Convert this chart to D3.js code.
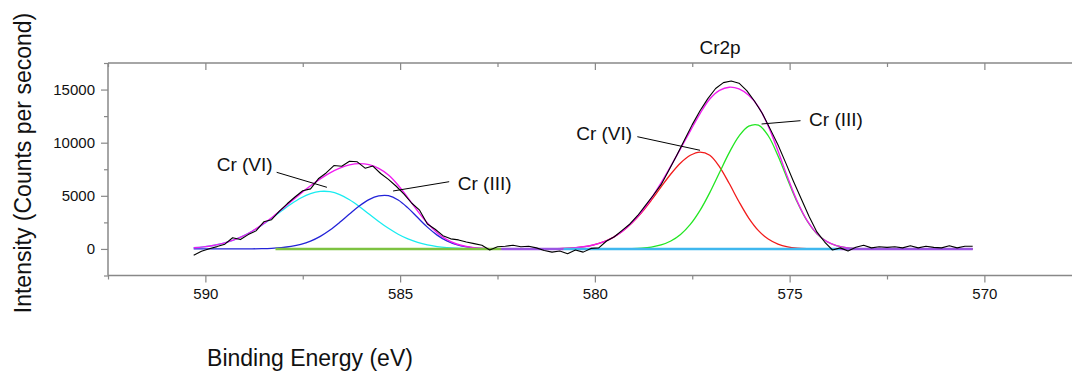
<!DOCTYPE html>
<html>
<head>
<meta charset="utf-8">
<script src="https://cdn.jsdelivr.net/npm/d3@7"></script>
<style>
  body { margin: 0; background: #fff; }
  svg { display: block; font-family: "Liberation Sans", Arial, sans-serif; }
</style>
</head>
<body>
<svg id="chart" width="1072" height="371"></svg>
<script>
// binding energy grid for the fitted curves (eV)
var energy = [590.30, 590.05, 589.80, 589.55, 589.30, 589.05, 588.80, 588.55, 588.30, 588.05,
  587.80, 587.55, 587.30, 587.05, 586.80, 586.55, 586.30, 586.05, 585.80, 585.55,
  585.30, 585.05, 584.80, 584.55, 584.30, 584.05, 583.80, 583.55, 583.30, 583.05,
  582.80, 582.55, 582.30, 582.05, 581.80, 581.55, 581.30, 581.05, 580.80, 580.55,
  580.30, 580.05, 579.80, 579.55, 579.30, 579.05, 578.80, 578.55, 578.30, 578.05,
  577.80, 577.55, 577.30, 577.05, 576.80, 576.55, 576.30, 576.05, 575.80, 575.55,
  575.30, 575.05, 574.80, 574.55, 574.30, 574.05, 573.80, 573.55, 573.30, 573.05,
  572.80, 572.55, 572.30, 572.05, 571.80, 571.55, 571.30, 571.05, 570.80, 570.55, 570.30];

// Cr 2p1/2 components (left doublet)
var cr6_left = [110, 193, 324, 519, 798, 1175, 1655, 2232, 2884, 3568,
  4225, 4792, 5204, 5411, 5384, 5111, 4628, 3998, 3293, 2588,
  1940, 1387, 945, 615, 382, 226, 128, 69, 35, 17,
  8, 3, 1, 0, 0, 0];
var cr3_left = [0, 0, 0, 1, 2, 4, 11, 26, 58, 121,
  236, 433, 742, 1188, 1783, 2501, 3284, 4034, 4638, 4990,
  5013, 4610, 3864, 2951, 2054, 1302, 753, 396, 190, 83,
  33, 12, 4, 1, 0, 0];

// Cr 2p3/2 components (right doublet), start at index 37
var cr6_right = [24, 51, 104, 200, 366, 634, 1045, 1634, 2428, 3425,
  4588, 5836, 7051, 8089, 8813, 9119, 8816, 7734, 6155, 4442,
  2907, 1726, 929, 454, 201, 81, 29, 10, 3, 1,
  0, 0, 0, 0, 0, 0, 0, 0, 0, 0, 0, 0, 0, 0];
var cr3_right = [0, 0, 0, 0, 0, 1, 4, 12, 32, 79,
  180, 380, 745, 1359, 2304, 3625, 5298, 7193, 9069, 10621,
  11554, 11651, 10653, 8779, 6518, 4362, 2630, 1430, 700, 309,
  123, 44, 14, 4, 1, 0, 0, 0, 0, 0, 0, 0, 0, 0];

// envelope of the fit
var envelope = [110, 193, 324, 520, 800, 1179, 1666, 2258, 2942, 3689,
  4461, 5225, 5946, 6599, 7167, 7612, 7912, 8032, 7931, 7578,
  6953, 5997, 4809, 3566, 2436, 1528, 881, 465, 225, 100,
  41, 15, 5, 1, 0, 0, 0, 24, 51, 104,
  200, 366, 635, 1049, 1646, 2460, 3504, 4768, 6216, 7796,
  9448, 11117, 12744, 14114, 14927, 15224, 15063, 14461, 13377, 11582,
  9233, 6719, 4443, 2659, 1440, 703, 310, 123, 44, 14,
  4, 1, 0, 0, 0, 0, 0, 0, 0, 0, 0];

// measured spectrum [eV, counts/s]
var raw = [[590.3, -600], [590.1, -220], [589.9, 20], [589.7, 220], [589.5, 450], [589.3, 1050],
  [589.1, 880], [588.9, 1350], [588.7, 1700], [588.5, 2550], [588.3, 2750], [588.1, 3550],
  [587.9, 4250], [587.7, 4890], [587.5, 5480], [587.3, 5650], [587.1, 6600], [586.9, 7150],
  [586.7, 7850], [586.5, 7780], [586.3, 8250], [586.1, 8200], [585.9, 7600], [585.7, 7800],
  [585.5, 7100], [585.3, 6550], [585.1, 5900], [584.9, 5150], [584.7, 4300], [584.5, 3650],
  [584.3, 2350], [584.1, 1850], [583.9, 1250], [583.7, 950], [583.5, 850], [583.3, 650],
  [583.1, 500], [582.9, 350], [582.7, -100], [582.5, 200], [582.3, 250], [582.1, 350],
  [581.9, 200], [581.7, 250], [581.5, 100], [581.3, -150], [581.1, -300], [580.9, -200],
  [580.7, -450], [580.5, -100], [580.3, -300], [580.1, 50], [579.9, 100], [579.7, 750],
  [579.5, 1150], [579.3, 1750], [579.1, 2350], [578.9, 3150], [578.7, 4100], [578.5, 5050],
  [578.3, 6050], [578.1, 7400], [577.9, 8800], [577.7, 10250], [577.5, 11700], [577.3, 13000],
  [577.1, 14150], [576.9, 15100], [576.7, 15650], [576.5, 15800], [576.3, 15600], [576.1, 14900],
  [575.9, 13900], [575.7, 12750], [575.5, 11300], [575.3, 9800], [575.1, 8100], [574.9, 6350],
  [574.7, 4700], [574.5, 3050], [574.3, 1600], [574.1, 650], [573.9, -100], [573.7, 100],
  [573.5, -200], [573.3, 150], [573.1, 350], [572.9, 100], [572.7, 200], [572.5, 150],
  [572.3, 200], [572.1, 100], [571.9, 300], [571.7, 100], [571.5, 250], [571.3, 150],
  [571.1, 100], [570.9, 300], [570.7, 100], [570.5, 250], [570.3, 250]];

// baseline pieces (eV breakpoints)
var baseBreaks = [588.2, 582.4, 580.8, 573.7, 570.3];

// ticks
var xMajor = [590, 585, 580, 575, 570];
var xMinor = [592.5, 587.5, 582.5, 577.5, 572.5, 567.5];
var yMajor = [0, 5000, 10000, 15000];
var yMinor = [-2500, 2500, 7500, 12500, 17500];

// annotations [text, eV, counts] and leader lines [eV1, c1, eV2, c2]
var labels = [["Cr (VI)", 589.71, 7336], ["Cr (III)", 583.52, 5547],
  ["Cr (VI)", 580.48, 10253], ["Cr (III)", 574.50, 11571]];
var leaders = [[588.17, 7213, 586.88, 5801], [583.74, 6328, 585.18, 5453],
  [578.91, 10564, 577.30, 9284], [574.72, 12070, 575.72, 11759]];

function draw_chart() {
    var W = 1072, H = 371;
    var plotLeft = 108, plotTop = 63, plotBottom = 275.5;
    var axisColor = "#888";

    var svg = d3.select("#chart");
    svg.append("rect").attr("width", W).attr("height", H).attr("fill", "#fff");

    var x = d3.scaleLinear().domain([592.5, 567.5]).range([plotLeft, 1081.75]);
    var y = d3.scaleLinear().domain([-2500, 17500]).range([plotBottom, plotTop]);

    // frame
    var frame = svg.append("g").attr("stroke", axisColor).attr("stroke-width", 1.5);
    frame.append("line").attr("x1", plotLeft).attr("x2", plotLeft).attr("y1", plotTop).attr("y2", plotBottom);
    frame.append("line").attr("x1", plotLeft).attr("x2", W).attr("y1", plotTop).attr("y2", plotTop);
    frame.append("line").attr("x1", plotLeft).attr("x2", W).attr("y1", plotBottom).attr("y2", plotBottom);

    function styleAxis(g) {
        g.select(".domain").remove();
        g.selectAll(".tick line").attr("stroke", axisColor).attr("stroke-width", 1.2);
        g.selectAll(".tick text").attr("fill", "#111").style("font-size", "15px")
            .style("font-family", "'Liberation Sans', Arial, sans-serif");
    }

    svg.append("g").attr("transform", "translate(0," + plotBottom + ")")
        .call(d3.axisBottom(x).tickValues(xMajor).tickSize(7).tickPadding(6).tickFormat(d3.format("d")))
        .call(styleAxis);
    svg.append("g").attr("transform", "translate(0," + plotBottom + ")")
        .call(d3.axisBottom(x).tickValues(xMinor).tickSize(4).tickFormat(""))
        .call(styleAxis);
    svg.append("g").attr("transform", "translate(0," + plotTop + ")")
        .call(d3.axisBottom(x).tickValues(xMajor).tickSize(7).tickFormat(""))
        .call(styleAxis);
    svg.append("g").attr("transform", "translate(0," + plotTop + ")")
        .call(d3.axisBottom(x).tickValues(xMinor).tickSize(4).tickFormat(""))
        .call(styleAxis);
    svg.append("g").attr("transform", "translate(" + plotLeft + ",0)")
        .call(d3.axisLeft(y).tickValues(yMajor).tickSize(7).tickPadding(6).tickFormat(d3.format("d")))
        .call(styleAxis);
    svg.append("g").attr("transform", "translate(" + plotLeft + ",0)")
        .call(d3.axisLeft(y).tickValues(yMinor).tickSize(4).tickFormat(""))
        .call(styleAxis);

    // curves
    function series(values, offset) {
        var pts = [];
        for (var i = 0; i < values.length; i++) {
            pts.push([energy[i + offset], values[i]]);
        }
        return pts;
    }

    var smooth = d3.line()
        .x(function (d) { return x(d[0]); })
        .y(function (d) { return y(d[1]); })
        .curve(d3.curveCatmullRom.alpha(0.5));
    var straight = d3.line()
        .x(function (d) { return x(d[0]); })
        .y(function (d) { return y(d[1]); });

    function drawLine(pts, color, w, gen) {
        svg.append("path")
            .attr("fill", "none")
            .attr("stroke", color)
            .attr("stroke-width", w)
            .attr("stroke-linejoin", "round")
            .attr("d", gen(pts));
    }

    drawLine(series(cr6_left, 0), "#19ecf0", 1.3, smooth);
    drawLine(series(cr3_left, 0), "#2323d8", 1.3, smooth);
    drawLine(series(cr6_right, 37), "#f21b1b", 1.3, smooth);
    drawLine(series(cr3_right, 37), "#22e622", 1.3, smooth);
    drawLine(series(envelope, 0), "#f01cf0", 1.4, smooth);

    // baseline
    var baseColors = ["#7dc241", "#9a55e2", "#3fb7ee", "#9a55e2"];
    for (var b = 0; b < baseBreaks.length - 1; b++) {
        drawLine([[baseBreaks[b], 0], [baseBreaks[b + 1], 0]], baseColors[b], 2.6, straight);
    }

    // measured data
    drawLine(raw, "#000", 1.1, straight);

    // annotations
    leaders.forEach(function (l) {
        svg.append("line")
            .attr("x1", x(l[0])).attr("y1", y(l[1]))
            .attr("x2", x(l[2])).attr("y2", y(l[3]))
            .attr("stroke", "#000").attr("stroke-width", 1);
    });
    labels.forEach(function (l) {
        svg.append("text")
            .attr("x", x(l[1])).attr("y", y(l[2]))
            .style("font-size", "19px")
            .attr("fill", "#111")
            .text(l[0]);
    });

    // titles
    svg.append("text")
        .attr("x", 720).attr("y", 54)
        .attr("text-anchor", "middle")
        .style("font-size", "19px")
        .attr("fill", "#111")
        .text("Cr2p");

    svg.append("text")
        .attr("transform", "translate(23,163) rotate(-90)")
        .attr("text-anchor", "middle")
        .attr("dy", "0.35em")
        .style("font-size", "23px")
        .attr("fill", "#111")
        .text("Intensity (Counts per second)");

    svg.append("text")
        .attr("x", 310).attr("y", 358)
        .attr("text-anchor", "middle")
        .attr("dy", "0.35em")
        .style("font-size", "23px")
        .attr("fill", "#111")
        .text("Binding Energy (eV)");
}

draw_chart();
</script>
</body>
</html>
